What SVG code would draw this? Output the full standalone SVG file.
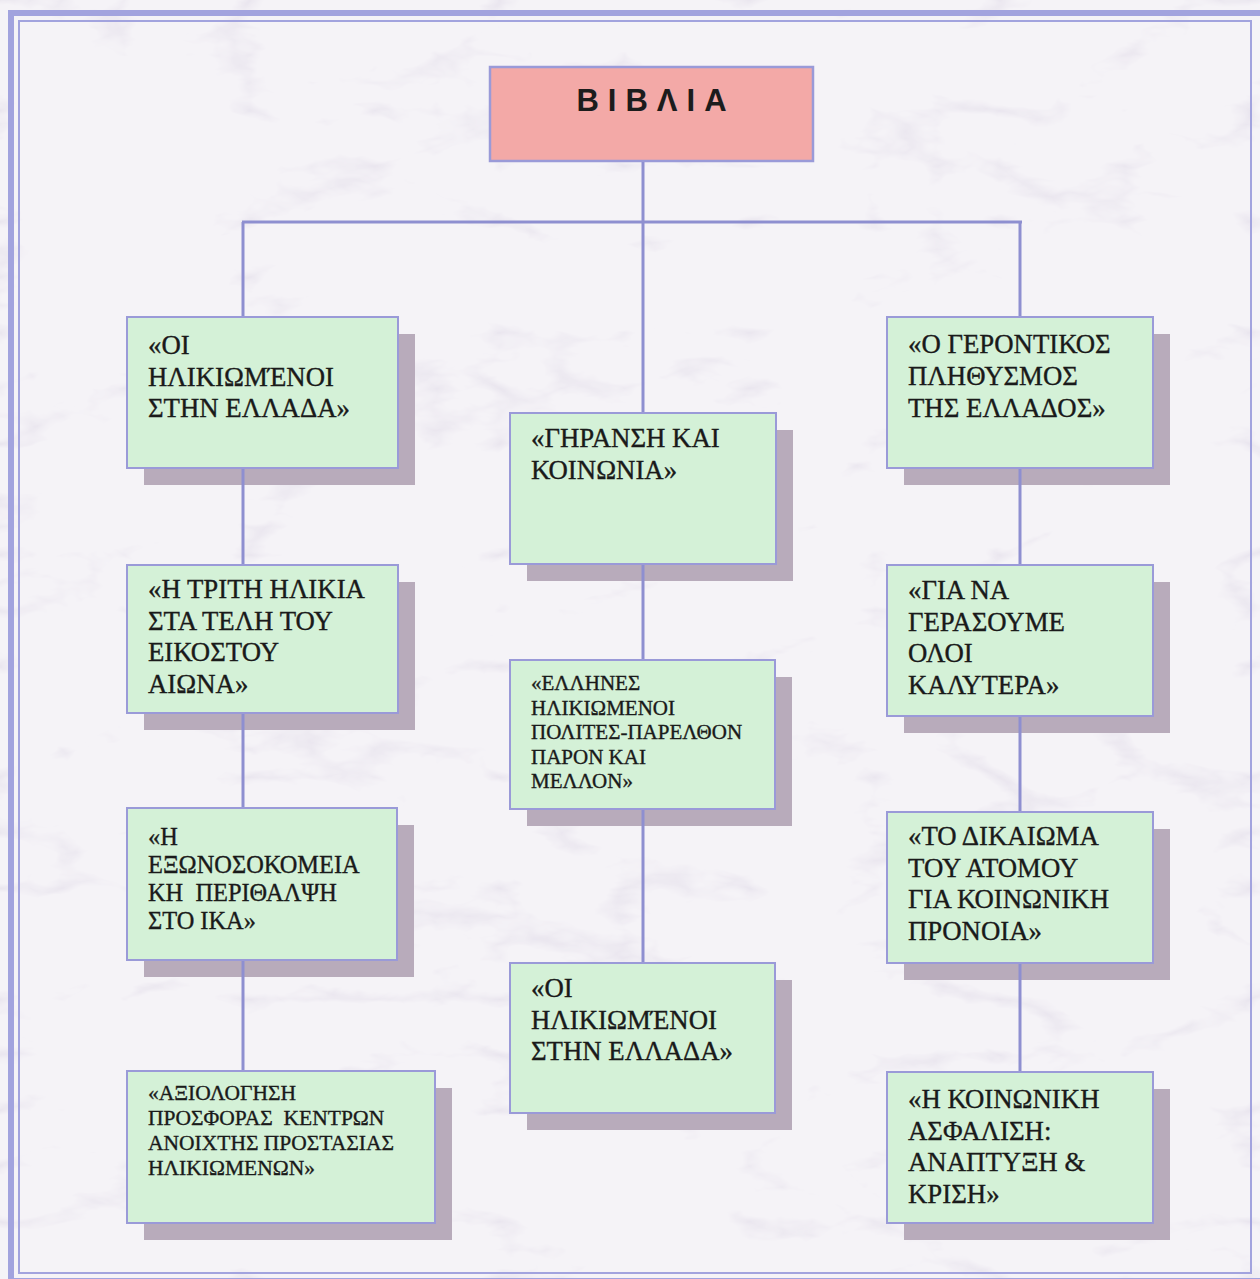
<svg xmlns="http://www.w3.org/2000/svg" width="1260" height="1279" viewBox="0 0 1260 1279">
<defs>
<filter id="marble" x="0" y="0" width="100%" height="100%">
<feTurbulence type="turbulence" baseFrequency="0.004 0.009" numOctaves="5" seed="11" result="n"/>
<feColorMatrix in="n" type="matrix" values="0 0 0 0 0.74  0 0 0 0 0.70  0 0 0 0 0.80  0 0 0 -3 0.55" result="c"/>
<feComposite in="c" in2="SourceGraphic" operator="in"/>
</filter>
<style>
.bg{fill:#f5f3f7}
.frame{fill:none;stroke:#a2a3de}
.shadow{fill:#b8abbb}
.box{fill:#d4f1d7;stroke:#9a9ad8;stroke-width:2}
.top{fill:#f3a9a7;stroke:#9a9ad8;stroke-width:2.5}
.conn line{stroke:#8e8fd0;stroke-width:3}
.t{font-family:"Liberation Serif","Times New Roman",serif;fill:#1a1a1a;stroke:#1a1a1a;stroke-width:0.35}
.t26{font-size:26.8px}
.t24{font-size:24.4px}
.t21{font-size:21.5px}
.title{font-family:"Liberation Sans",Arial,sans-serif;font-weight:bold;font-size:31px;letter-spacing:9px;fill:#1c1c1c}
</style>
</defs>
<rect class="bg" x="0" y="0" width="1260" height="1279"/>
<rect x="0" y="0" width="1260" height="1279" fill="#fff" filter="url(#marble)"/>
<rect class="frame" x="11" y="13" width="1254" height="1268" stroke-width="6"/>
<rect class="frame" x="19" y="21" width="1232" height="1252" stroke-width="2"/>

<g id="node-top">
<rect class="top" x="490" y="67" width="323" height="94"/>
<text class="title" x="656" y="111" text-anchor="middle">ΒΙΒΛΙΑ</text>
</g>

<g id="node-L1">
<rect class="shadow" x="144" y="334" width="271" height="151"/>
<rect class="box" x="127" y="317" width="271" height="151"/>
<text class="t t26"><tspan x="148" y="354">«ΟΙ</tspan><tspan x="148" y="385.5">ΗΛΙΚΙΩΜΈΝΟΙ</tspan><tspan x="148" y="417">ΣΤΗΝ ΕΛΛΑΔΑ»</tspan></text>
</g>
<g id="node-L2">
<rect class="shadow" x="144" y="582" width="271" height="148"/>
<rect class="box" x="127" y="565" width="271" height="148"/>
<text class="t t26"><tspan x="148" y="598">«Η ΤΡΙΤΗ ΗΛΙΚΙΑ</tspan><tspan x="148" y="629.5">ΣΤΑ ΤΕΛΗ ΤΟΥ</tspan><tspan x="148" y="661">ΕΙΚΟΣΤΟΥ</tspan><tspan x="148" y="692.5">ΑΙΩΝΑ»</tspan></text>
</g>
<g id="node-L3">
<rect class="shadow" x="144" y="825" width="270" height="152"/>
<rect class="box" x="127" y="808" width="270" height="152"/>
<text class="t t24"><tspan x="148" y="845">«Η</tspan><tspan x="148" y="873">ΕΞΩΝΟΣΟΚΟΜΕΙΑ</tspan><tspan x="148" y="901" xml:space="preserve">ΚΗ  ΠΕΡΙΘΑΛΨΗ</tspan><tspan x="148" y="929">ΣΤΟ ΙΚΑ»</tspan></text>
</g>
<g id="node-L4">
<rect class="shadow" x="144" y="1088" width="308" height="152"/>
<rect class="box" x="127" y="1071" width="308" height="152"/>
<text class="t t21"><tspan x="148" y="1100">«ΑΞΙΟΛΟΓΗΣΗ</tspan><tspan x="148" y="1125" xml:space="preserve">ΠΡΟΣΦΟΡΑΣ  ΚΕΝΤΡΩΝ</tspan><tspan x="148" y="1150">ΑΝΟΙΧΤΗΣ ΠΡΟΣΤΑΣΙΑΣ</tspan><tspan x="148" y="1175">ΗΛΙΚΙΩΜΕΝΩΝ»</tspan></text>
</g>

<g id="node-M1">
<rect class="shadow" x="527" y="430" width="266" height="151"/>
<rect class="box" x="510" y="413" width="266" height="151"/>
<text class="t t26"><tspan x="531" y="447">«ΓΗΡΑΝΣΗ ΚΑΙ</tspan><tspan x="531" y="478.5">ΚΟΙΝΩΝΙΑ»</tspan></text>
</g>
<g id="node-M2">
<rect class="shadow" x="527" y="677" width="265" height="149"/>
<rect class="box" x="510" y="660" width="265" height="149"/>
<text class="t t21" style="font-size:21px"><tspan x="531" y="690">«ΕΛΛΗΝΕΣ</tspan><tspan x="531" y="714.5">ΗΛΙΚΙΩΜΕΝΟΙ</tspan><tspan x="531" y="739">ΠΟΛΙΤΕΣ-ΠΑΡΕΛΘΟΝ</tspan><tspan x="531" y="763.5">ΠΑΡΟΝ ΚΑΙ</tspan><tspan x="531" y="788">ΜΕΛΛΟΝ»</tspan></text>
</g>
<g id="node-M3">
<rect class="shadow" x="527" y="980" width="265" height="150"/>
<rect class="box" x="510" y="963" width="265" height="150"/>
<text class="t t26"><tspan x="531" y="997">«ΟΙ</tspan><tspan x="531" y="1028.5">ΗΛΙΚΙΩΜΈΝΟΙ</tspan><tspan x="531" y="1060">ΣΤΗΝ ΕΛΛΑΔΑ»</tspan></text>
</g>

<g id="node-R1">
<rect class="shadow" x="904" y="334" width="266" height="151"/>
<rect class="box" x="887" y="317" width="266" height="151"/>
<text class="t t26"><tspan x="908" y="353">«Ο ΓΕΡΟΝΤΙΚΟΣ</tspan><tspan x="908" y="385">ΠΛΗΘΥΣΜΟΣ</tspan><tspan x="908" y="417">ΤΗΣ ΕΛΛΑΔΟΣ»</tspan></text>
</g>
<g id="node-R2">
<rect class="shadow" x="904" y="582" width="266" height="151"/>
<rect class="box" x="887" y="565" width="266" height="151"/>
<text class="t t26"><tspan x="908" y="599">«ΓΙΑ ΝΑ</tspan><tspan x="908" y="630.5">ΓΕΡΑΣΟΥΜΕ</tspan><tspan x="908" y="662">ΟΛΟΙ</tspan><tspan x="908" y="693.5">ΚΑΛΥΤΕΡΑ»</tspan></text>
</g>
<g id="node-R3">
<rect class="shadow" x="904" y="829" width="266" height="151"/>
<rect class="box" x="887" y="812" width="266" height="151"/>
<text class="t t26"><tspan x="908" y="845">«ΤΟ ΔΙΚΑΙΩΜΑ</tspan><tspan x="908" y="876.5">ΤΟΥ ΑΤΟΜΟΥ</tspan><tspan x="908" y="908">ΓΙΑ ΚΟΙΝΩΝΙΚΗ</tspan><tspan x="908" y="939.5">ΠΡΟΝΟΙΑ»</tspan></text>
</g>
<g id="node-R4">
<rect class="shadow" x="904" y="1089" width="266" height="151"/>
<rect class="box" x="887" y="1072" width="266" height="151"/>
<text class="t t26"><tspan x="908" y="1108">«Η ΚΟΙΝΩΝΙΚΗ</tspan><tspan x="908" y="1139.5">ΑΣΦΑΛΙΣΗ:</tspan><tspan x="908" y="1171">ΑΝΑΠΤΥΞΗ &amp;</tspan><tspan x="908" y="1202.5">ΚΡΙΣΗ»</tspan></text>
</g>

<g id="connectors" class="conn">
<line x1="643" y1="162" x2="643" y2="222"/>
<line x1="242" y1="222" x2="1022" y2="222"/>
<line x1="243" y1="222" x2="243" y2="316"/>
<line x1="243" y1="469" x2="243" y2="564"/>
<line x1="243" y1="714" x2="243" y2="807"/>
<line x1="243" y1="961" x2="243" y2="1070"/>
<line x1="643" y1="222" x2="643" y2="412"/>
<line x1="643" y1="565" x2="643" y2="659"/>
<line x1="643" y1="810" x2="643" y2="962"/>
<line x1="1020" y1="222" x2="1020" y2="316"/>
<line x1="1020" y1="469" x2="1020" y2="564"/>
<line x1="1020" y1="717" x2="1020" y2="811"/>
<line x1="1020" y1="964" x2="1020" y2="1071"/>
</g>
</svg>
